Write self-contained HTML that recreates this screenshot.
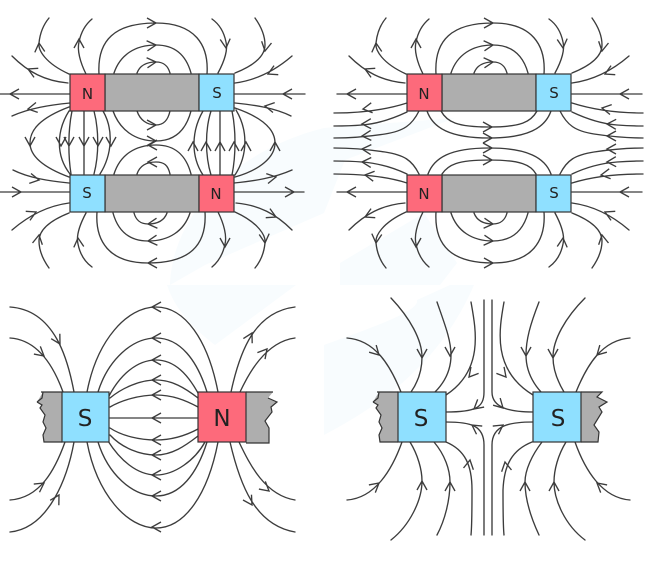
<!DOCTYPE html>
<html><head><meta charset="utf-8"><style>
html,body{margin:0;padding:0;background:#fff}
svg{display:block;filter:blur(.3px)}
.l path,.l line{fill:none;stroke:#3c3c3c;stroke-width:1.35;stroke-linecap:round}
#a{fill:none;stroke:#3c3c3c;stroke-width:1.35;stroke-linejoin:miter}
.b{stroke:#333;stroke-width:1.2}
.N{fill:#fd6a7b}.S{fill:#8fe0ff}.G{fill:#aeaeae}
text{font-family:"DejaVu Sans","Liberation Sans",sans-serif;fill:#222;text-anchor:middle}
</style></head><body>
<svg width="648" height="572" viewBox="0 0 648 572" xmlns="http://www.w3.org/2000/svg">
<defs>
<path id="a" d="M-9 -5L0 0L-9 5"/>
<g id="top" class="l">
<path d="M68 83C45 81 28 72 12 56"/>
<path d="M69 74C45 63 38 50 39 43C40 33 44 24 49 18"/>
<path d="M86 74C80 62 77 50 79 42C81 32 86 24 92 19"/>
<path d="M0 94H70"/>
<path d="M99 74C97 40 115 23 156 23C195 23 209 45 207 74"/>
<path d="M114 73C120 55 135 45 156 45C175 45 186 55 191 73"/>
<path d="M137 73C140 65 147 62 156 62C164 62 168 66 170 73"/>
<path d="M235 83C250 81 270 75 292 56"/>
<path d="M235 73C250 67 265 58 265 45C265 35 260 25 255 18"/>
<path d="M218 73C225 60 228 50 226 42C224 32 219 24 212 19"/>
<path d="M235 94H305"/>
<use href="#a" transform="translate(28,69) rotate(205)"/>
<use href="#a" transform="translate(39,43) rotate(-95)"/>
<use href="#a" transform="translate(79,39) rotate(-90)"/>
<use href="#a" transform="translate(10,94) rotate(180)"/>
<use href="#a" transform="translate(156,23)"/>
<use href="#a" transform="translate(156,45) rotate(-5)"/>
<use href="#a" transform="translate(156,62) rotate(-5)"/>
<use href="#a" transform="translate(265,51) rotate(100)"/>
<use href="#a" transform="translate(226,48) rotate(85)"/>
<use href="#a" transform="translate(268,74) rotate(155)"/>
<use href="#a" transform="translate(283,94) rotate(180)"/>
</g>
<g id="side" class="l">
<path d="M70 103C50 105 30 108 12 116"/>
<path d="M235 103C255 105 275 108 291 116"/>
<use href="#a" transform="translate(28,109) rotate(170)"/>
<use href="#a" transform="translate(265,106) rotate(190)"/>
</g>
</defs>

<!-- watermark -->
<g fill="#f8fcfe">
<path d="M170 285C172 215 235 150 324 128L455 118L345 160L324 213L205 265Z"/>
<path d="M167 285H296L215 345C195 330 175 310 167 285Z"/>
<path d="M340 263L424 213L457 263L440 285H340Z"/>
<path d="M324 345C380 325 420 310 417 300L450 285H474C450 340 410 390 324 435Z"/>
</g>

<!-- panel 1 -->
<use href="#top"/>
<use href="#top" transform="rotate(180 152 143)"/>
<use href="#side"/>
<use href="#side" transform="rotate(180 152 143)"/>
<g class="l">
<path d="M84 111V174"/>
<path d="M72 111C68 130 68 155 71 174"/>
<path d="M69 111C57 130 55 155 70 174"/>
<path d="M94 111C99 130 99 155 94 174"/>
<path d="M103 111C114 130 112 155 100 174"/>
<path d="M69 107C40 118 30 130 30 143C30 157 45 168 69 177"/>
<path d="M220 111V175"/>
<path d="M211 111C205 130 205 155 211 175"/>
<path d="M203 111C192 130 190 155 203 175"/>
<path d="M232 111C236 130 236 155 232 175"/>
<path d="M236 110C248 130 248 155 235 175"/>
<path d="M235 108C264 118 275 130 275 143C275 157 260 170 235 177"/>
<path d="M113 111C120 130 135 141 156 141C175 141 186 130 191 111"/>
<path d="M137 111C140 120 147 125 156 125C164 125 168 120 170 111"/>
<path d="M114 174C120 155 135 145 156 145C175 145 186 155 191 174"/>
<path d="M137 174C140 165 147 162 156 162C164 162 168 165 170 174"/>
<use href="#a" transform="translate(30,146) rotate(90)"/>
<use href="#a" transform="translate(61,146) rotate(90)"/>
<use href="#a" transform="translate(69,146) rotate(90)"/>
<use href="#a" transform="translate(84,146) rotate(90)"/>
<use href="#a" transform="translate(98,146) rotate(90)"/>
<use href="#a" transform="translate(111,146) rotate(90)"/>
<use href="#a" transform="translate(193,142) rotate(-90)"/>
<use href="#a" transform="translate(206,142) rotate(-90)"/>
<use href="#a" transform="translate(220,142) rotate(-90)"/>
<use href="#a" transform="translate(234,142) rotate(-90)"/>
<use href="#a" transform="translate(246,142) rotate(-90)"/>
<use href="#a" transform="translate(275,142) rotate(-90)"/>
<use href="#a" transform="translate(156,141)"/>
<use href="#a" transform="translate(156,125)"/>
<use href="#a" transform="translate(148,145) rotate(180)"/>
<use href="#a" transform="translate(148,162) rotate(180)"/>
</g>
<g class="b">
<rect class="G" x="105" y="74" width="94" height="37"/><rect class="N" x="70" y="74" width="35" height="37"/><rect class="S" x="199" y="74" width="35" height="37"/>
<rect class="G" x="105" y="175" width="94" height="37"/><rect class="S" x="70" y="175" width="35" height="37"/><rect class="N" x="199" y="175" width="35" height="37"/>
</g>
<text x="87.500" y="99" font-size="15">N</text><text x="217" y="98" font-size="15">S</text>
<text x="87" y="198" font-size="15">S</text><text x="216" y="199" font-size="15">N</text>

<!-- panel 2 -->
<use href="#top" transform="translate(337,0)"/>
<use href="#top" transform="translate(337,286) scale(1,-1)"/>
<g class="l">
<path d="M407 112C390 120 375 124 362 125C350 126 342 126 334 126"/>
<path d="M419 111C412 125 404 131 385 134C365 137 350 138 334 138"/>
<path d="M419 174C412 160 404 155 385 152C365 149 350 148 334 148"/>
<path d="M407 174C390 166 375 163 362 162C350 161 342 161 334 161"/>
<path d="M407 103C385 110 360 113 334 113"/>
<path d="M407 183C385 176 360 174 334 174"/>
<path d="M572 112C589 120 604 124 617 125C629 126 637 126 643 126"/>
<path d="M560 111C567 125 575 131 594 134C614 137 629 138 643 138"/>
<path d="M560 174C567 160 575 155 594 152C614 149 629 148 643 148"/>
<path d="M572 174C589 166 604 163 617 162C629 161 637 161 643 161"/>
<path d="M572 103C594 110 619 113 643 113"/>
<path d="M572 183C594 176 619 174 643 174"/>
<path d="M441 111C447 122 457 127 489 127C521 127 531 122 537 111"/>
<path d="M427 111C433 128 450 138 489 138C528 138 545 128 551 111"/>
<path d="M428 174C434 158 450 148 489 148C528 148 545 158 551 174"/>
<path d="M442 174C448 165 457 160 489 160C521 160 531 165 536 174"/>
<use href="#a" transform="translate(492,127)"/><use href="#a" transform="translate(492,138)"/>
<use href="#a" transform="translate(492,148)"/><use href="#a" transform="translate(492,160)"/>
<use href="#a" transform="translate(363,109) rotate(172)"/>
<use href="#a" transform="translate(362,124) rotate(178)"/>
<use href="#a" transform="translate(362,136) rotate(176)"/>
<use href="#a" transform="translate(362,149) rotate(184)"/>
<use href="#a" transform="translate(362,162) rotate(183)"/>
<use href="#a" transform="translate(365,175) rotate(188)"/>
<use href="#a" transform="translate(602,108) rotate(190)"/>
<use href="#a" transform="translate(607,124) rotate(182)"/>
<use href="#a" transform="translate(607,136) rotate(180)"/>
<use href="#a" transform="translate(607,149) rotate(180)"/>
<use href="#a" transform="translate(607,162) rotate(178)"/>
<use href="#a" transform="translate(601,175) rotate(172)"/>
</g>
<g class="b">
<rect class="G" x="442" y="74" width="94" height="37"/><rect class="N" x="407" y="74" width="35" height="37"/><rect class="S" x="536" y="74" width="35" height="37"/>
<rect class="G" x="442" y="175" width="94" height="37"/><rect class="N" x="407" y="175" width="35" height="37"/><rect class="S" x="536" y="175" width="35" height="37"/>
</g>
<text x="424" y="99" font-size="15">N</text><text x="554" y="98" font-size="15">S</text>
<text x="424" y="199" font-size="15">N</text><text x="554" y="198" font-size="15">S</text>

<!-- panel 3 -->
<g class="l">
<path d="M218 392C208 340 185 307 156 307C127 307 97 340 87 392"/>
<path d="M207 392C197 360 180 338 156 338C132 338 108 360 98 392"/>
<path d="M198 393C188 375 175 360 156 360C137 360 120 375 109 396"/>
<path d="M198 398C185 388 172 380 156 380C140 380 122 388 110 398"/>
<path d="M198 407C185 400 172 395 156 395C140 395 122 400 110 407"/>
<path d="M110 418H198"/>
<path d="M198 429C185 436 172 440 156 440C140 440 122 436 110 428"/>
<path d="M198 436C185 446 172 455 156 455C140 455 122 448 110 435"/>
<path d="M205 442C195 460 175 475 156 475C137 475 120 460 108 441"/>
<path d="M207 442C197 474 180 496 156 496C132 496 108 474 98 442"/>
<path d="M218 442C208 494 185 528 156 528C127 528 97 494 87 442"/>
<path d="M74 392C68 360 55 310 10 307"/>
<path d="M63 392C55 370 40 340 10 338"/>
<path d="M74 442C68 475 50 528 10 532"/>
<path d="M65 442C55 470 40 498 10 500"/>
<path d="M231 392C240 350 255 312 295 307"/>
<path d="M240 392C248 375 265 342 295 338"/>
<path d="M230 442C240 485 255 525 295 532"/>
<path d="M239 442C250 465 265 495 295 500"/>
<use href="#a" transform="translate(152,307) rotate(180)"/>
<use href="#a" transform="translate(152,338) rotate(180)"/>
<use href="#a" transform="translate(152,360) rotate(180)"/>
<use href="#a" transform="translate(152,380) rotate(180)"/>
<use href="#a" transform="translate(152,395) rotate(180)"/>
<use href="#a" transform="translate(152,418) rotate(180)"/>
<use href="#a" transform="translate(152,440) rotate(180)"/>
<use href="#a" transform="translate(152,455) rotate(180)"/>
<use href="#a" transform="translate(152,475) rotate(180)"/>
<use href="#a" transform="translate(152,496) rotate(180)"/>
<use href="#a" transform="translate(152,527) rotate(180)"/>
<use href="#a" transform="translate(60,344) rotate(60)"/>
<use href="#a" transform="translate(44,356) rotate(40)"/>
<use href="#a" transform="translate(59,495) rotate(-60)"/>
<use href="#a" transform="translate(44,483) rotate(-35)"/>
<use href="#a" transform="translate(252,333) rotate(-62)"/>
<use href="#a" transform="translate(267,349) rotate(-50)"/>
<use href="#a" transform="translate(252,505) rotate(58)"/>
<use href="#a" transform="translate(269,491) rotate(40)"/>
</g>
<g class="b">
<path class="G" stroke="none" d="M43 392L37 402L42 405L40 408L45 415L43 422L46 428L43 435L44 442H62V392Z"/>
<path fill="none" d="M41 392H62M37 402L42 398L43 392M37 402L42 405L40 408L45 415L43 422L46 428L43 435L44 442H62"/>
<path class="G" stroke="none" d="M246 392H273L268 398L277 402L271 407L272 412L265 421L269 428L269 443H246Z"/>
<path fill="none" d="M246 392H273M268 398L277 402L271 407L272 412L265 421L269 428L269 443H246"/>
<rect class="S" x="62" y="392" width="47" height="50"/><rect class="N" x="198" y="392" width="48" height="50"/>
</g>
<text x="85" y="426" font-size="23">S</text><text x="222" y="426" font-size="23">N</text>

<!-- panel 4 -->
<g class="l">
<path d="M484 300V392C484 408 475 412 446 412"/>
<path d="M492 300V392C492 408 510 412 533 412"/>
<path d="M446 422C470 422 484 425 484 445V535"/>
<path d="M533 422C510 422 492 425 492 445V535"/>
<path d="M471 302C476 330 484 370 446 395"/>
<path d="M504 302C499 330 492 370 533 395"/>
<path d="M437 302C445 325 451 340 451 355C451 370 445 382 435 392"/>
<path d="M391 298C410 318 422 340 422 357C422 370 418 382 411 392"/>
<path d="M347 338C375 340 390 365 401 392"/>
<path d="M539 302C530 325 526 340 526 355C526 370 532 382 541 392"/>
<path d="M585 298C565 318 553 340 553 357C553 370 558 382 564 392"/>
<path d="M630 338C602 340 587 365 576 392"/>
<path d="M446 442C465 450 472 465 472 490C472 510 472 525 471 535"/>
<path d="M434 442C445 455 450 470 450 482C450 500 445 520 437 535"/>
<path d="M410 442C418 455 422 470 422 481C422 500 410 525 391 540"/>
<path d="M402 442C392 470 375 498 347 500"/>
<path d="M532 442C512 450 504 465 503 490C503 510 503 525 504 535"/>
<path d="M542 442C532 455 525 470 525 482C525 500 532 520 539 535"/>
<path d="M566 442C558 455 554 470 554 482C554 500 565 525 585 540"/>
<path d="M575 442C585 470 602 498 630 500"/>
<use href="#a" transform="translate(474,409) rotate(140)"/>
<use href="#a" transform="translate(503,408) rotate(45)"/>
<use href="#a" transform="translate(472,425) rotate(215)"/>
<use href="#a" transform="translate(503,425) rotate(-35)"/>
<use href="#a" transform="translate(469,377) rotate(130)"/>
<use href="#a" transform="translate(506,377) rotate(50)"/>
<use href="#a" transform="translate(450,356) rotate(90)"/>
<use href="#a" transform="translate(422,358) rotate(90)"/>
<use href="#a" transform="translate(379,355) rotate(45)"/>
<use href="#a" transform="translate(526,356) rotate(90)"/>
<use href="#a" transform="translate(553,358) rotate(90)"/>
<use href="#a" transform="translate(597,355) rotate(135)"/>
<use href="#a" transform="translate(470,460) rotate(-80)"/>
<use href="#a" transform="translate(450,482) rotate(-90)"/>
<use href="#a" transform="translate(422,481) rotate(-90)"/>
<use href="#a" transform="translate(379,483) rotate(-40)"/>
<use href="#a" transform="translate(505,462) rotate(-100)"/>
<use href="#a" transform="translate(525,482) rotate(-90)"/>
<use href="#a" transform="translate(554,482) rotate(-90)"/>
<use href="#a" transform="translate(597,483) rotate(220)"/>
</g>
<g class="b">
<path class="G" stroke="none" d="M379 392L373 402L378 405L376 408L381 415L379 422L382 428L379 435L380 442H398V392Z"/>
<path fill="none" d="M377 392H398M373 402L378 398L379 392M373 402L378 405L376 408L381 415L379 422L382 428L379 435L380 442H398"/>
<path class="G" stroke="none" d="M581 392H602L597 397L607 402L599 407L602 412L594 425L599 432L598 442H581Z"/>
<path fill="none" d="M581 392H602L597 397L607 402L599 407L602 412L594 425L599 432L598 442H581"/>
<rect class="S" x="398" y="392" width="48" height="50"/><rect class="S" x="533" y="392" width="48" height="50"/>
</g>
<text x="421" y="426" font-size="23">S</text><text x="558" y="426" font-size="23">S</text>
</svg>
</body></html>
